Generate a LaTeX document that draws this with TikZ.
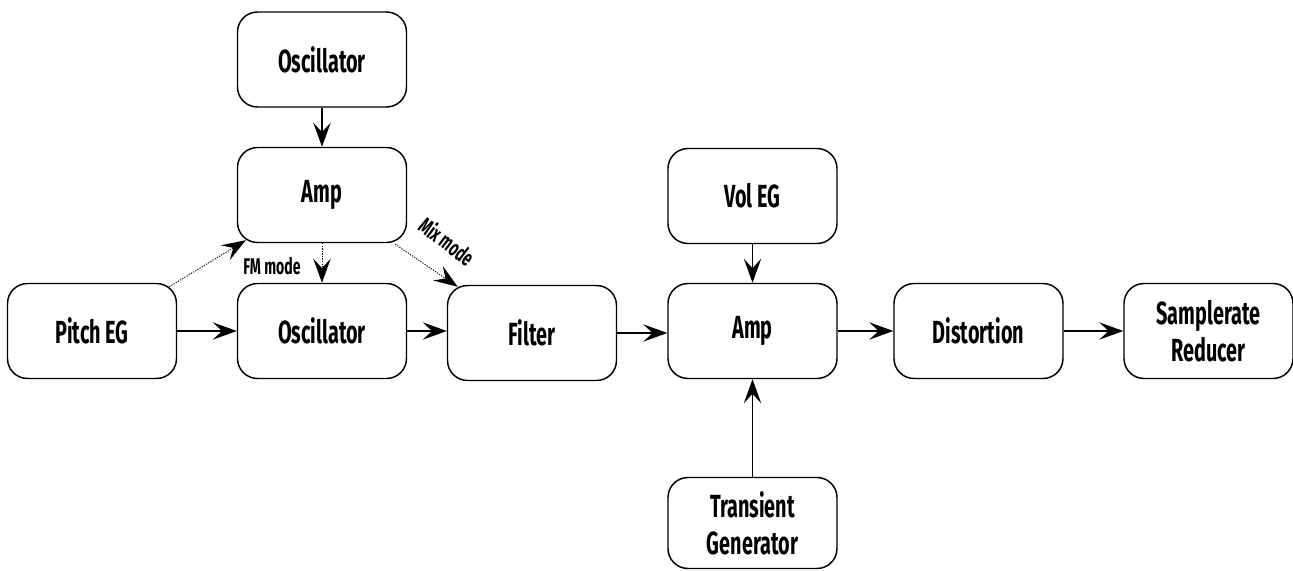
\documentclass[tikz,border=0pt]{standalone}
\usepackage{fontspec}
\newfontfamily\cond{Fira Sans}[FakeStretch=0.62]
\usetikzlibrary{arrows.meta,calc}
\begin{document}
\begin{tikzpicture}[x=0.75pt,y=-0.75pt,
  blk/.style={draw, line width=1.1pt, rounded corners=15pt, minimum width=126.75pt, minimum height=71.25pt,
    font=\cond\bfseries\fontsize{24}{28}\selectfont, align=center, inner sep=0pt},
  conn/.style={line width=0.9pt, -{Stealth[length=18pt,width=13pt,inset=7pt]}},
  dconn/.style={conn, densely dotted, line width=0.7pt},
  lbl/.style={font=\cond\bfseries\fontsize{17}{20}\selectfont, inner sep=0pt}]
\useasboundingbox (0,0) rectangle (1293,571);
\node[blk] (osc1) at (322,59.5) {Oscillator};
\node[blk] (amp1) at (322,195) {Amp};
\node[blk] (pitch) at (92,331) {Pitch EG};
\node[blk] (osc2) at (322,331) {Oscillator};
\node[blk] (filter) at (532,333) {Filter};
\node[blk] (amp2) at (752.5,331) {Amp};
\node[blk] (vol) at (752.5,196) {Vol EG};
\node[blk, minimum height=68.25pt] (trans) at (752.5,523) {Transient\\Generator};
\node[blk] (dist) at (978.5,331) {Distortion};
\node[blk] (samp) at (1208.5,331) {Samplerate\\Reducer};

\draw[conn] (osc1) -- (amp1);
\draw[conn] (pitch) -- (osc2);
\draw[conn] (osc2.east) -- (osc2.east -| filter.west);
\draw[conn] (filter.east) -- (filter.east -| amp2.west);
\draw[conn] (amp2) -- (dist);
\draw[conn] (dist) -- (samp);
\draw[conn] (vol) -- (amp2);
\draw[conn] (trans) -- (amp2);

\draw[dconn] ($(pitch.north east)+(-8,4)$) -- ($(amp1.south west)+(9,-3)$);
\draw[dconn] (amp1) -- (osc2);
\draw[dconn] ($(amp1.south east)+(-12,1)$) -- ($(filter.north west)+(11,2)$);

\node[lbl] (fm) at (272,266) {FM mode};
\node[lbl, rotate=-37] (mix) at (447,241) {Mix mode};
\end{tikzpicture}
\end{document}
